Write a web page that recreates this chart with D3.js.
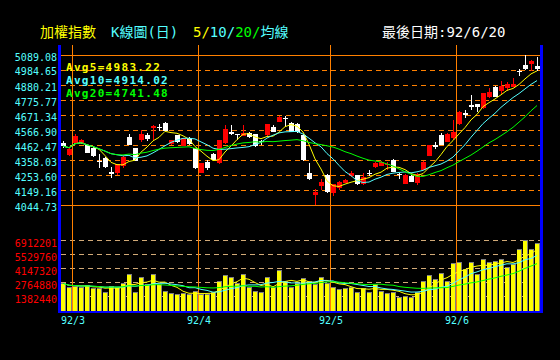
<!DOCTYPE html>
<html lang="zh-Hant">
<head>
<meta charset="UTF-8">
<title>加權指數 K線圖(日)</title>
<script src="https://cdn.jsdelivr.net/npm/d3@7/dist/d3.min.js"></script>
<style>
  body { margin: 0; background: #000; }
  svg { display: block; }
</style>
</head>
<body>
<script>
// chart size
var w = 560, h = 360;

// daily prices, 92/2 end .. 92/6/20
var openPx  = [4478,4393,4478,4475,4462,4444,4350,4370,4272,4265,
               4318,4520,4440,4497,4532,4578,4590,4616,4467,4532,
               4458,4509,4440,4270,4346,4398,4335,4474,4551,4537,
               4527,4544,4537,4492,4532,4590,4625,4652,4613,4609,
               4532,4270,4114,4180,4254,4126,4165,4200,4247,4254,
               4189,4265,4312,4318,4320,4358,4260,4191,4249,4200,
               4289,4388,4462,4532,4486,4513,4606,4687,4740,4747,
               4718,4794,4868,4838,4862,4868,4980,5019,5026,5014];
var highPx  = [4490,4440,4542,4505,4465,4450,4398,4380,4307,4332,
               4385,4540,4442,4567,4545,4600,4611,4620,4500,4535,
               4512,4516,4442,4338,4355,4406,4500,4601,4601,4540,
               4600,4555,4540,4500,4612,4605,4662,4664,4620,4615,
               4538,4335,4156,4225,4258,4190,4210,4225,4278,4256,
               4270,4290,4345,4350,4345,4365,4268,4258,4253,4265,
               4350,4465,4480,4545,4545,4636,4700,4708,4810,4750,
               4825,4860,4870,4910,4900,4931,4990,5089,5055,5075];
var lowPx   = [4440,4385,4475,4470,4405,4382,4305,4300,4235,4255,
               4305,4460,4348,4481,4490,4497,4560,4558,4462,4478,
               4455,4460,4298,4266,4285,4352,4330,4470,4530,4500,
               4524,4510,4450,4462,4528,4550,4620,4590,4553,4548,
               4352,4222,4044,4150,4130,4110,4150,4195,4240,4186,
               4185,4245,4305,4315,4290,4272,4228,4188,4205,4186,
               4285,4385,4435,4460,4480,4497,4600,4653,4705,4695,
               4715,4790,4797,4820,4840,4865,4945,4984,4975,4975];
var closePx = [4455,4432,4527,4497,4409,4386,4345,4308,4260,4328,
               4381,4462,4352,4541,4504,4597,4584,4562,4497,4481,
               4509,4467,4305,4335,4305,4358,4497,4574,4540,4531,
               4544,4520,4455,4481,4609,4555,4659,4645,4555,4551,
               4358,4228,4137,4203,4137,4189,4203,4218,4270,4189,
               4242,4258,4335,4342,4330,4277,4252,4254,4207,4259,
               4346,4462,4450,4462,4541,4551,4694,4671,4730,4730,
               4822,4834,4799,4875,4885,4887,4975,4991,5049,4991];
// daily volume (thousand shares)
var volume  = [2730,2340,2470,2340,2530,2240,2240,1910,2470,2340,
               2730,3650,1910,3320,2670,3650,2670,1970,1740,1650,
               1740,1650,1970,1650,1650,1910,2960,3550,3320,2730,
               3650,2400,1970,1840,3320,2400,4050,2960,2400,2800,
               3230,3000,2670,3390,2800,2400,2140,2300,2400,1840,
               2300,1910,2670,1970,1810,1910,1350,1510,1420,1910,
               3000,3520,3190,3720,3000,4710,4870,4150,4810,3650,
               5100,4810,4970,5170,4380,4610,6090,7010,6090,6680];

// month labels and the index of each month's first trading day
var monthLabels = ["92/3", "92/4", "92/5", "92/6"];
var monthStart  = [2, 23, 45, 66];

// axis ticks as printed on the chart
var priceTicks = [4044.73, 4149.16, 4253.60, 4358.03, 4462.47, 4566.90,
                  4671.34, 4775.77, 4880.21, 4984.65, 5089.08];
var volTicks = [1382440, 2764880, 4147320, 5529760, 6912201];

// moving average legend
var avgNames  = ["Avg5", "Avg10", "Avg20"];
var avgValues = [4983.22, 4914.02, 4741.48];
var avgDays   = [5, 10, 20];

var orange = "#ff8000", cyan = "#55ffff", yellow = "#ffff00",
    green = "#00ff00", red = "#ff0000", blue = "#0000ff";
var avgColors = [yellow, cyan, green];
var mono = "'DejaVu Sans Mono', 'Liberation Mono', monospace";
var titleFont = "'DejaVu Sans Mono', 'Noto Sans CJK TC', sans-serif";

var n = closePx.length;

var svg = d3.select("body").append("svg")
    .attr("width", w)
    .attr("height", h)
    .style("background", "#000");

// scales
var x = d3.scaleBand().domain(d3.range(n)).range([60, 540]);
var cx = function(i) { return x(i) + x.bandwidth() / 2; };
var yP = d3.scaleLinear().domain([priceTicks[0], priceTicks[priceTicks.length - 1]]).range([205, 55]);
var yV = d3.scaleLinear().domain([0, volTicks[volTicks.length - 1]]).range([311, 241]);

function movingAvg(values, k) {
    return values.map(function(v, i) {
        return d3.mean(values.slice(Math.max(0, i - k + 1), i + 1));
    });
}

// title
svg.append("text").attr("x", 40).attr("y", 37)
    .attr("font-family", titleFont).attr("font-size", 14)
    .attr("fill", yellow).text("加權指數");
svg.append("text").attr("x", 111).attr("y", 37)
    .attr("font-family", titleFont).attr("font-size", 14)
    .attr("fill", cyan).text("K線圖(日)");
var sub = svg.append("text").attr("x", 193).attr("y", 37)
    .attr("font-family", titleFont).attr("font-size", 14);
sub.append("tspan").attr("fill", yellow).text("5/");
sub.append("tspan").attr("fill", cyan).text("10/");
sub.append("tspan").attr("fill", green).text("20/");
sub.append("tspan").attr("fill", cyan).text("均線");
svg.append("text").attr("x", 382).attr("y", 37)
    .attr("font-family", titleFont).attr("font-size", 14)
    .attr("fill", "#ffffff").text("最後日期:92/6/20");

// price grid
svg.append("g").attr("shape-rendering", "crispEdges")
    .selectAll("line").data(priceTicks).enter().append("line")
    .attr("x1", 61).attr("x2", 540)
    .attr("y1", function(d) { return Math.round(yP(d)) + 0.5; })
    .attr("y2", function(d) { return Math.round(yP(d)) + 0.5; })
    .attr("stroke", orange)
    .attr("stroke-dasharray", function(d, i) {
        return (i == 0 || i == priceTicks.length - 1) ? null : "5,4";
    });

// volume grid
svg.append("g").attr("shape-rendering", "crispEdges")
    .selectAll("line").data(volTicks).enter().append("line")
    .attr("x1", 61).attr("x2", 540)
    .attr("y1", function(d) { return Math.round(yV(d)) - 0.5; })
    .attr("y2", function(d) { return Math.round(yV(d)) - 0.5; })
    .attr("stroke", "#d2aa78")
    .attr("stroke-dasharray", "5,4");

// month separators
svg.append("g").attr("shape-rendering", "crispEdges")
    .selectAll("line").data(monthStart).enter().append("line")
    .attr("x1", function(d) { return x(d) + 0.5; })
    .attr("x2", function(d) { return x(d) + 0.5; })
    .attr("y1", 45).attr("y2", 311)
    .attr("stroke", orange);

// candles
var candles = svg.append("g").attr("shape-rendering", "crispEdges")
    .selectAll("g").data(d3.range(n)).enter().append("g");
candles.append("line")
    .attr("x1", function(i) { return cx(i) + 0.5; })
    .attr("x2", function(i) { return cx(i) + 0.5; })
    .attr("y1", function(i) { return Math.round(yP(highPx[i])); })
    .attr("y2", function(i) { return Math.round(yP(lowPx[i])); })
    .attr("stroke", function(i) { return closePx[i] >= openPx[i] ? red : "#ffffff"; });
candles.append("rect")
    .attr("x", function(i) { return cx(i) - 2; })
    .attr("width", 5)
    .attr("y", function(i) { return Math.round(yP(Math.max(openPx[i], closePx[i]))); })
    .attr("height", function(i) {
        return Math.max(1, Math.round(yP(Math.min(openPx[i], closePx[i]))) -
                           Math.round(yP(Math.max(openPx[i], closePx[i]))));
    })
    .attr("fill", function(i) { return closePx[i] >= openPx[i] ? red : "#ffffff"; });

// price moving averages
avgDays.forEach(function(k, j) {
    var ma = movingAvg(closePx, k);
    svg.append("path")
        .datum(ma)
        .attr("fill", "none")
        .attr("stroke", avgColors[j])
        .attr("stroke-width", 1)
        .attr("d", d3.line().x(function(d, i) { return cx(i); }).y(function(d) { return yP(d); }));
});

// volume bars (gray edge + yellow face)
var vols = svg.append("g").attr("shape-rendering", "crispEdges")
    .selectAll("g").data(volume).enter().append("g");
vols.append("rect")
    .attr("x", function(d, i) { return cx(i) - 2; })
    .attr("width", 5)
    .attr("y", function(d) { return Math.round(yV(d * 1000)); })
    .attr("height", function(d) { return yV(0) - Math.round(yV(d * 1000)); })
    .attr("fill", "#808080");
vols.append("rect")
    .attr("x", function(d, i) { return cx(i) - 2; })
    .attr("width", 4)
    .attr("y", function(d) { return Math.round(yV(d * 1000)) + 1; })
    .attr("height", function(d) { return yV(0) - Math.round(yV(d * 1000)) - 1; })
    .attr("fill", yellow);

// volume moving averages
avgDays.forEach(function(k, j) {
    var ma = movingAvg(volume, k);
    svg.append("path")
        .datum(ma)
        .attr("fill", "none")
        .attr("stroke", avgColors[j])
        .attr("stroke-width", 1)
        .attr("d", d3.line().x(function(d, i) { return cx(i); }).y(function(d) { return yV(d * 1000); }));
});

// blue frame
svg.append("g").attr("fill", blue).attr("shape-rendering", "crispEdges")
    .call(function(g) {
        g.append("rect").attr("x", 58).attr("y", 45).attr("width", 3).attr("height", 268);
        g.append("rect").attr("x", 540).attr("y", 45).attr("width", 3).attr("height", 268);
        g.append("rect").attr("x", 58).attr("y", 311).attr("width", 485).attr("height", 2);
    });

// price axis labels
svg.append("g").attr("transform", "translate(57,0)")
    .call(d3.axisLeft(yP).tickValues(priceTicks).tickFormat(d3.format(".2f")).tickSize(0).tickPadding(0))
    .call(function(g) { g.select(".domain").remove(); })
    .attr("font-family", mono).attr("font-size", 10)
    .selectAll("text").attr("fill", cyan).attr("dy", "0.5em");

// volume axis labels
svg.append("g").attr("transform", "translate(57,0)")
    .call(d3.axisLeft(yV).tickValues(volTicks).tickFormat(d3.format("d")).tickSize(0).tickPadding(0))
    .call(function(g) { g.select(".domain").remove(); })
    .attr("font-family", mono).attr("font-size", 10)
    .selectAll("text").attr("fill", red).attr("dy", "0.5em");

// month labels
svg.append("g").selectAll("text").data(monthStart).enter().append("text")
    .attr("x", function(d) { return x(d) + 1; })
    .attr("y", 324)
    .attr("text-anchor", "middle")
    .attr("font-family", mono).attr("font-size", 10)
    .attr("fill", cyan)
    .text(function(d, i) { return monthLabels[i]; });

// legend
svg.append("g").selectAll("text").data(avgNames).enter().append("text")
    .attr("x", 66)
    .attr("y", function(d, i) { return 71 + i * 13; })
    .attr("font-family", mono).attr("font-size", 11).attr("font-weight", "bold")
    .attr("letter-spacing", 1.3)
    .attr("fill", function(d, i) { return avgColors[i]; })
    .text(function(d, i) { return d + "=" + avgValues[i].toFixed(2); });
</script>
</body>
</html>
